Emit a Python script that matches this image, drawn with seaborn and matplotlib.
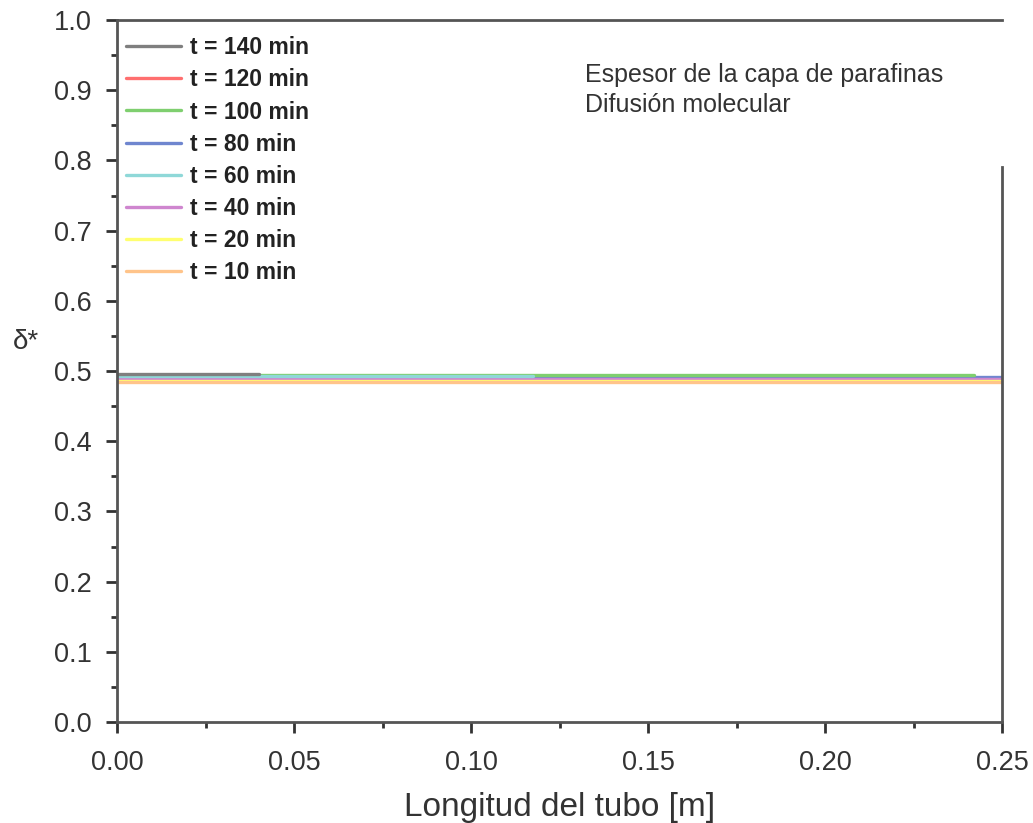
import matplotlib
matplotlib.use("Agg")
import matplotlib.pyplot as plt
import seaborn as sns
import pandas as pd
from matplotlib.ticker import MultipleLocator

# series (flat profiles, each with its visible extent)
labels = ["t = 140 min", "t = 120 min", "t = 100 min", "t = 80 min",
          "t = 60 min", "t = 40 min", "t = 20 min", "t = 10 min"]
colors = ["#7f7f7f", "#ff6f6f", "#7fcf6f", "#6f86cf",
          "#8fd8d8", "#cf86cf", "#ffff70", "#ffc48a"]
x_start = [0.0, 0.0, 0.0, 0.0, 0.0, 0.0, 0.0, 0.0]
x_end = [0.040, 0.141, 0.242, 0.250, 0.1175, 0.250, 0.250, 0.250]
delta = [0.496, 0.487, 0.494, 0.491, 0.493, 0.489, 0.486, 0.485]
draw_order = [1, 3, 5, 6, 7, 2, 4, 0]

rows = []
for i in range(len(labels)):
    rows.append({"t": labels[i], "x": x_start[i], "d": delta[i]})
    rows.append({"t": labels[i], "x": x_end[i], "d": delta[i]})
df = pd.DataFrame(rows)

sns.set_style("ticks")
plt.rcParams['font.family'] = ['Liberation Sans', 'DejaVu Sans']

fig = plt.figure(figsize=(10.33, 8.23), dpi=100)
ax = fig.add_axes([0.1133, 0.1227, 0.8567, 0.853])

handles = {}
for i in draw_order:
    sub = df[df["t"] == labels[i]]
    sns.lineplot(data=sub, x="x", y="d", ax=ax, color=colors[i], lw=2.4,
                 label=labels[i], legend=False)
    handles[labels[i]] = ax.lines[-1]

leg = ax.legend([handles[l] for l in labels], labels, loc="upper left",
                frameon=False, fontsize=16.5, handlelength=2.4,
                handletextpad=0.4, labelspacing=0.4, borderaxespad=0.0,
                bbox_to_anchor=(0.0, 0.99))
for t in leg.get_texts():
    t.set_fontweight("bold")
    t.set_color("#222222")

ax.text(0.529, 0.9, "Espesor de la capa de parafinas\nDifusión molecular",
        transform=ax.transAxes, fontsize=18, color="#333333",
        va="center", linespacing=1.3)

ax.set_xlim(0, 0.25)
ax.set_ylim(0, 1.0)
ax.xaxis.set_major_locator(MultipleLocator(0.05))
ax.xaxis.set_minor_locator(MultipleLocator(0.025))
ax.yaxis.set_major_locator(MultipleLocator(0.1))
ax.yaxis.set_minor_locator(MultipleLocator(0.05))
ax.set_xticklabels([f"{v:.2f}" for v in ax.get_xticks()])
ax.set_yticklabels([f"{v:.1f}" for v in ax.get_yticks()])
ax.tick_params(which="major", direction="out", length=8, width=2,
               labelsize=19.5, colors="#333333")
ax.tick_params(axis="x", which="major", pad=12)
ax.tick_params(axis="y", which="major", pad=10)
ax.tick_params(which="minor", direction="out", length=4, width=2, colors="#333333")

for s in ax.spines.values():
    s.set_linewidth(2)
    s.set_color("#555555")
ax.spines["right"].set_bounds(0, 0.79)

ax.set_xlabel("Longitud del tubo [m]", fontsize=24, color="#333333", labelpad=12)
ax.set_ylabel("δ*", fontsize=20, color="#333333", rotation=0, va="center",
              ha="center")
ax.yaxis.set_label_coords(-0.103, 0.541)

fig.savefig("out.png", dpi=100, facecolor="white")
